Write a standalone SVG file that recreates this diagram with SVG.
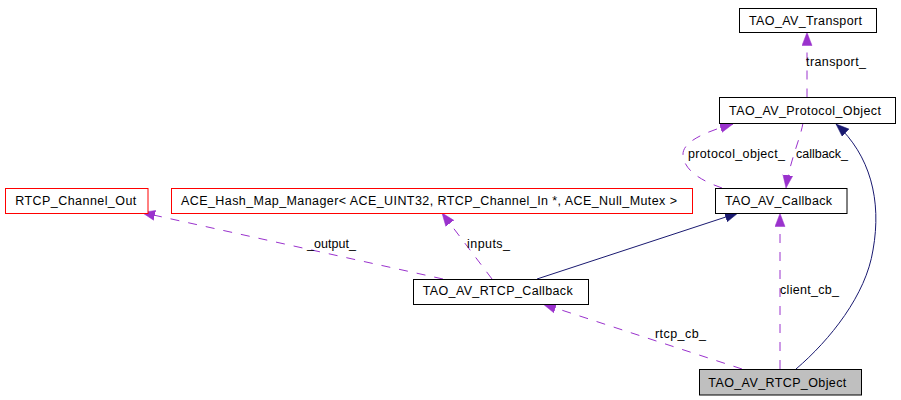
<svg xmlns="http://www.w3.org/2000/svg" width="901" height="400" viewBox="0 0 901 400">
<style>
.box{fill:#ffffff;stroke:#000000;stroke-width:1}
.red{fill:#ffffff;stroke:#ff0000;stroke-width:1}
.cur{fill:#bfbfbf;stroke:#000000;stroke-width:1}
.t{font-family:"Liberation Sans",Arial,sans-serif;font-size:12.5px;fill:#000000}
.use{fill:none;stroke:#9a32cd;stroke-width:1;stroke-dasharray:9,9}
.inh{fill:none;stroke:#191970;stroke-width:1}
</style>
<defs>
<marker id="ap" markerUnits="userSpaceOnUse" markerWidth="14" markerHeight="11" refX="13" refY="5" orient="auto" viewBox="0 0 14 10">
<path d="M0,0 L13,5 L0,10 z" fill="#9a32cd" stroke="#9a32cd" stroke-width="0.5"/>
</marker>
<marker id="an" markerUnits="userSpaceOnUse" markerWidth="14" markerHeight="11" refX="13" refY="5" orient="auto" viewBox="0 0 14 10">
<path d="M0,0 L13,5 L0,10 z" fill="#191970" stroke="#191970" stroke-width="0.5"/>
</marker>
</defs>
<rect width="901" height="400" fill="#ffffff"/>
<g id="connectors">
<path class="use" d="M807,97.5 L807,32.5" marker-end="url(#ap)"/>
<path class="use" d="M803,123 C800,140 790,160 786,188" marker-end="url(#ap)"/>
<path class="use" d="M722,188 C705,182 684,172 683,155 C682,140 712,130 733,124" marker-end="url(#ap)"/>
<path class="inh" d="M537,279 L738,213" marker-end="url(#an)"/>
<path class="inh" d="M796,369 C830,340 866,295 873,250 C882,200 870,155 836,124" marker-end="url(#an)"/>
<path class="use" d="M780,369 L780,213.5" marker-end="url(#ap)"/>
<path class="use" d="M742,369 L543,304" marker-end="url(#ap)"/>
<path class="use" d="M492,279 L442,213" marker-end="url(#ap)"/>
<path class="use" d="M443,279 L142,212.5" marker-end="url(#ap)"/>
<text class="t" x="806" y="66" textLength="60">transport_</text>
<text class="t" x="796" y="158" textLength="52">callback_</text>
<text class="t" x="688" y="158" textLength="97">protocol_object_</text>
<text class="t" x="307" y="248" textLength="49">_output_</text>
<text class="t" x="467" y="248" textLength="43">inputs_</text>
<text class="t" x="655" y="338" textLength="51">rtcp_cb_</text>
<text class="t" x="780" y="294" textLength="59">client_cb_</text>
</g>
<g id="TAO_AV_Transport">
<rect class="box" x="739.5" y="8.5" width="137" height="24"/>
<text class="t" x="749" y="25" textLength="113">TAO_AV_Transport</text>
</g>
<g id="TAO_AV_Protocol_Object">
<rect class="box" x="719.5" y="97.5" width="176" height="26"/>
<text class="t" x="729" y="114.5" textLength="152">TAO_AV_Protocol_Object</text>
</g>
<g id="TAO_AV_Callback">
<rect class="box" x="715.5" y="188.5" width="131.5" height="25"/>
<text class="t" x="725" y="205" textLength="107">TAO_AV_Callback</text>
</g>
<g id="RTCP_Channel_Out">
<rect class="red" x="5.5" y="188.5" width="142.5" height="25"/>
<text class="t" x="15.3" y="205" textLength="121">RTCP_Channel_Out</text>
</g>
<g id="ACE_Hash_Map_Manager">
<rect class="red" x="171.5" y="188.5" width="521" height="25"/>
<text class="t" x="181" y="205" textLength="496">ACE_Hash_Map_Manager&lt; ACE_UINT32, RTCP_Channel_In *, ACE_Null_Mutex &gt;</text>
</g>
<g id="TAO_AV_RTCP_Callback">
<rect class="box" x="413.5" y="279.5" width="175" height="25"/>
<text class="t" x="422.7" y="295" textLength="150">TAO_AV_RTCP_Callback</text>
</g>
<g id="TAO_AV_RTCP_Object">
<rect class="cur" x="699.5" y="369.5" width="162" height="25.5"/>
<text class="t" x="708.3" y="386.5" textLength="138">TAO_AV_RTCP_Object</text>
</g>
</svg>
